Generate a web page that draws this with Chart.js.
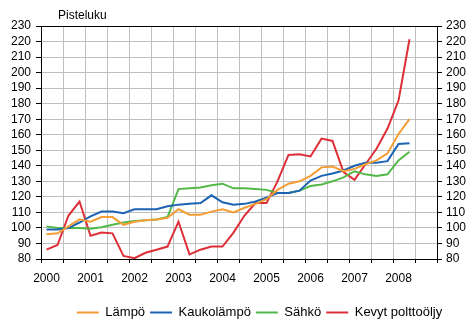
<!DOCTYPE html>
<html>
<head>
<meta charset="utf-8">
<title>Pisteluku</title>
<script src="https://cdn.jsdelivr.net/npm/chart.js@4"></script>
<style>
  html, body { margin: 0; padding: 0; background: #fff; }
  #wrap { width: 475px; height: 331px; }
</style>
</head>
<body>
<div id="wrap"><canvas id="indexChart"></canvas></div>
<script>
// Quarterly index points, 2000 Q1 .. 2008 Q2 (room left for Q3/Q4 2008)
const years = ['2000', '2001', '2002', '2003', '2004', '2005', '2006', '2007', '2008'];
const quarters = years.flatMap(y => ['Q1', 'Q2', 'Q3', 'Q4'].map(q => y + ' ' + q));

const lampo = [96, 96.5, 101, 105.5, 104, 107, 107, 102, 104, 105, 105.5, 106.5,
  112, 108.5, 108.5, 110.5, 112, 110, 113, 115.5, 118.5, 124.5, 128.5, 130,
  133.5, 139, 139.5, 136.5, 138, 141, 143.5, 148, 160.5, 170];
const kaukolampo = [99, 99, 100, 103.5, 107.5, 110.5, 110.5, 109.5, 112, 112, 112, 114,
  115, 115.5, 116, 121, 116.5, 115, 115.5, 117, 119.5, 122.5, 122.5, 124,
  130.5, 133.5, 135, 137, 140, 142, 142, 143, 154, 154.5];
const sahko = [101, 100, 100, 100, 99.5, 100.5, 102, 103.5, 104.5, 105, 105.5, 107,
  125, 125.5, 126, 127.5, 128.5, 125.5, 125.5, 125, 124.5, 122.5, 122.5, 124,
  127, 128, 130, 132.5, 136.5, 134.5, 133.5, 134.5, 143.5, 149];
const polttooljy = [86, 89, 108, 117, 95, 97, 96.5, 82, 80.5, 84, 86, 88,
  104, 83, 86, 88, 88, 97, 108, 116, 116, 130, 147, 147.5,
  146, 157.5, 156, 136, 131, 141, 151, 164, 182, 221.5];

const unitText = 'Pisteluku';
const yMin = 80, yMax = 230, yStep = 10;

Chart.defaults.font.family = '"Liberation Sans", Arial, sans-serif';
Chart.defaults.font.size = 12;
Chart.defaults.color = '#000';

function series(label, data, color) {
  return {
    label, data,
    borderColor: color, backgroundColor: color,
    borderWidth: 2, pointRadius: 0, tension: 0, fill: false
  };
}

// unit caption above the left axis, legend nudged right
const unitLabel = {
  id: 'unitLabel',
  afterLayout(chart) {
    const l = chart.legend;
    if (l) { l.left += 22; l.right += 22; }
  },
  afterDraw(chart) {
    const ctx = chart.ctx;
    ctx.save();
    ctx.font = '12px "Liberation Sans", Arial, sans-serif';
    ctx.fillStyle = '#000';
    ctx.textAlign = 'left';
    ctx.textBaseline = 'middle';
    ctx.fillText(unitText, chart.chartArea.left + 17, chart.chartArea.top - 10);
    ctx.restore();
  }
};

const yGridColor = c => (c.tick && (c.tick.value === yMin || c.tick.value === yMax)) ? '#000' : '#c0c0c0';

new Chart(document.getElementById('indexChart'), {
  type: 'line',
  data: {
    labels: quarters,
    datasets: [
      series('Lämpö', lampo, '#f59d35'),
      series('Kaukolämpö', kaukolampo, '#1c63b3'),
      series('Sähkö', sahko, '#52b848'),
      series('Kevyt polttoöljy', polttooljy, '#de2f38')
    ]
  },
  options: {
    responsive: true,
    maintainAspectRatio: false,
    animation: false,
    devicePixelRatio: 1,
    events: [],
    layout: { padding: { left: 0, right: 0, top: 26, bottom: 2 } },
    plugins: {
      title: { display: false },
      legend: {
        position: 'bottom',
        labels: {
          usePointStyle: true, pointStyle: 'line', pointStyleWidth: 22,
          padding: 5, font: { size: 13 }, color: '#000'
        }
      },
      tooltip: { enabled: false }
    },
    scales: {
      x: {
        type: 'category',
        offset: true,
        grid: {
          offset: true,
          color: c => c.index === 0 ? '#000' : (c.index % 2 === 0 ? '#c0c0c0' : 'rgba(0,0,0,0)'),
          tickColor: c => (c.index === undefined || c.index % 2 === 0) ? '#000' : 'rgba(0,0,0,0)',
          tickLength: 4
        },
        border: { color: '#000' },
        ticks: {
          autoSkip: false, maxRotation: 0, minRotation: 0, padding: 8,
          callback: (v, i) => i % 4 === 0 ? years[i / 4] : ''
        },
        afterFit: s => { s.height = 42; }
      },
      y: {
        position: 'left',
        min: yMin, max: yMax,
        grid: { color: yGridColor, tickColor: '#000', tickLength: 5 },
        border: { color: '#000' },
        ticks: { stepSize: yStep, autoSkip: false, padding: 5 },
        afterFit: s => { s.width = 41; }
      },
      y2: {
        position: 'right',
        min: yMin, max: yMax,
        grid: { drawOnChartArea: false, tickColor: '#000', tickLength: 5 },
        border: { color: '#000' },
        ticks: { stepSize: yStep, autoSkip: false, padding: 4 },
        afterFit: s => { s.width = 38; }
      }
    }
  },
  plugins: [unitLabel]
});
</script>
</body>
</html>
